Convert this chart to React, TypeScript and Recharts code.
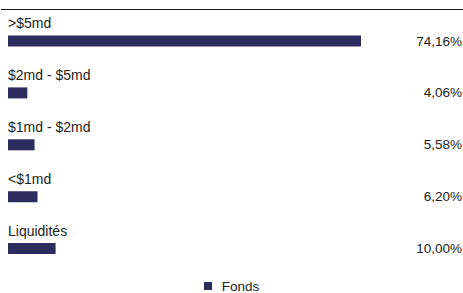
import { BarChart, Bar, XAxis, YAxis, Legend, LabelList } from "recharts";

const categories = [">$5md", "$2md - $5md", "$1md - $2md", "<$1md", "Liquidités"];
const fondsValues = [74.16, 4.06, 5.58, 6.2, 10.0];
const seriesName = "Fonds";

const BAR_COLOR = "#2c2d5e";
const TEXT_COLOR = "#222";
const FONT = "'Liberation Sans', Arial, Helvetica, sans-serif";

const data = categories.map((name, i) => ({ name, value: fondsValues[i] }));

const fmt = (v: number) => v.toFixed(2).replace(".", ",") + "%";

const CategoryLabel = (props: any) => {
  const { y, value } = props;
  return (
    <text x={8} y={y - 7.5} fill={TEXT_COLOR} fontSize={14} fontFamily={FONT}>
      {value}
    </text>
  );
};

const ValueLabel = (props: any) => {
  const { y, height, value } = props;
  return (
    <text
      x={462}
      y={y + height / 2}
      fill={TEXT_COLOR}
      fontSize={13.5}
      fontFamily={FONT}
      textAnchor="end"
      dominantBaseline="central"
    >
      {fmt(value)}
    </text>
  );
};

const renderLegend = () => (
  <div
    style={{
      display: "flex",
      justifyContent: "center",
      alignItems: "center",
      fontFamily: FONT,
      fontSize: 13.5,
      color: TEXT_COLOR,
      height: 18,
      transform: "translateY(2px)",
    }}
  >
    <span style={{ width: 8, height: 8, background: BAR_COLOR, marginRight: 10, display: "inline-block" }} />
    <span>{seriesName}</span>
  </div>
);

export default function App() {
  return (
    <div style={{ position: "absolute", left: 0, top: 0, width: 463, height: 293, background: "#fff" }}>
      <div style={{ position: "absolute", left: 1, top: 9, width: 462, height: 1, background: "#151515" }} />
      <BarChart
        width={463}
        height={293}
        data={data}
        layout="vertical"
        margin={{ top: 15.5, right: 102, bottom: 0, left: 8 }}
      >
        <XAxis type="number" hide domain={[0, 74.16]} />
        <YAxis type="category" dataKey="name" hide width={0} />
        <Legend
          verticalAlign="bottom"
          height={18}
          content={renderLegend}
          wrapperStyle={{ left: 0, width: 463 }}
        />
        <Bar dataKey="value" name={seriesName} fill={BAR_COLOR} barSize={11} isAnimationActive={false}>
          <LabelList dataKey="name" content={CategoryLabel} />
          <LabelList dataKey="value" content={ValueLabel} />
        </Bar>
      </BarChart>
    </div>
  );
}
